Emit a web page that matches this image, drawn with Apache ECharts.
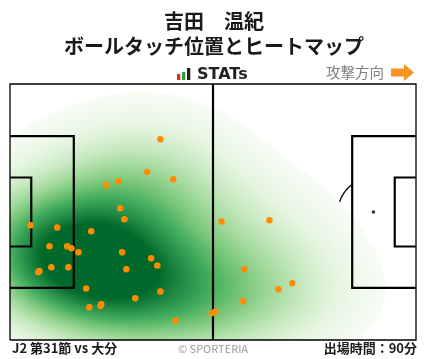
<!DOCTYPE html>
<html><head><meta charset="utf-8">
<script src="https://cdn.jsdelivr.net/npm/echarts@6/dist/echarts.min.js"></script>
<style>html,body{margin:0;padding:0;background:#fff;}#c{width:428px;height:359px;}</style>
</head><body><div id="c"></div>
<script>
// ---- data (pitch metres, x: 0 = own goal line, y: 0 = bottom touchline) ----
const touchX = [38.9, 35.5, 28.0, 24.9, 42.2, 28.5, 29.6, 5.3, 12.2, 21.0,
                10.2, 14.8, 15.9, 17.7, 29.0, 36.5, 38.1, 30.1, 7.3, 7.6,
                10.7, 15.1, 19.7, 38.9, 32.4, 20.5, 23.4, 23.6, 42.8, 52.2,
                53.1, 54.7, 67.1, 60.6, 73.0, 69.4, 60.3];
const touchY = [53.3, 44.6, 42.2, 41.1, 42.7, 35.0, 32.1, 30.5, 29.9, 28.9,
                24.9, 24.9, 24.4, 23.3, 23.3, 21.7, 19.8, 18.8, 18.0, 18.3,
                19.3, 19.3, 13.7, 12.9, 11.1, 8.7, 9.0, 9.5, 5.2, 7.1,
                7.6, 31.5, 31.8, 18.8, 15.1, 13.5, 10.3];
const titleName = '吉田　温紀';
const titleSub = 'ボールタッチ位置とヒートマップ';
const logoText = 'STATs';
const directionText = '攻撃方向';
const matchLabel = 'J2 第31節 vs 大分';
const copyrightLabel = '© SPORTERIA';
const minutesLabel = '出場時間：90分';

// ---- pitch dimensions (metres) ----
const PL = 105, PW = 68;

// ---- Gaussian KDE (Scott's rule, full covariance) from the touch points ----
const BW_ADJ = 1.6, THRESH = 0.04, TOP = 0.8;
const n = touchX.length;
const mx = touchX.reduce((a, b) => a + b, 0) / n;
const my = touchY.reduce((a, b) => a + b, 0) / n;
let sxx = 0, syy = 0, sxy = 0;
for (let i = 0; i < n; i++) {
  const dx = touchX[i] - mx, dy = touchY[i] - my;
  sxx += dx * dx; syy += dy * dy; sxy += dx * dy;
}
sxx /= (n - 1); syy /= (n - 1); sxy /= (n - 1);
const f2 = Math.pow(n, -1 / 3) * BW_ADJ * BW_ADJ;
const ca = sxx * f2, cb = sxy * f2, cd = syy * f2;
const det = ca * cd - cb * cb;
const ia = cd / det, ib = -cb / det, id = ca / det;
const knorm = 1 / (n * 2 * Math.PI * Math.sqrt(det));
function dens(x, y) {
  let s = 0;
  for (let i = 0; i < n; i++) {
    const dx = x - touchX[i], dy = y - touchY[i];
    s += Math.exp(-0.5 * (ia * dx * dx + 2 * ib * dx * dy + id * dy * dy));
  }
  return s * knorm;
}
const bwx = Math.sqrt(ca), bwy = Math.sqrt(cd);
const gx0 = Math.min(...touchX) - 3 * bwx, gx1 = Math.max(...touchX) + 3 * bwx;
const gy0 = Math.min(...touchY) - 3 * bwy, gy1 = Math.max(...touchY) + 3 * bwy;
const ext = [];
const G = 150;
for (let i = 0; i < G; i++) for (let j = 0; j < G; j++) {
  ext.push(dens(gx0 + (gx1 - gx0) * i / (G - 1), gy0 + (gy1 - gy0) * j / (G - 1)));
}
ext.sort((a, b) => b - a);
const tot = ext.reduce((a, b) => a + b, 0);
let acc = 0, thr = ext[ext.length - 1];
for (let k = 0; k < ext.length; k++) { acc += ext[k]; if (acc / tot >= 1 - THRESH) { thr = ext[k]; break; } }

const NX = 203, NY = 128;
const cellsX = Array.from({length: NX}, (_, i) => i);
const cellsY = Array.from({length: NY}, (_, j) => j);
const heat = [];
let dmax = 0;
for (let i = 0; i < NX; i++) for (let j = 0; j < NY; j++) {
  const v = dens((i + 0.5) * PL / NX, (j + 0.5) * PW / NY);
  if (v > dmax) dmax = v;
  if (v >= thr) heat.push([i, j, v]);
}

// ---- pitch markings ----
const PA_D = 16.5, PA_W = 40.32, GA_D = 5.5, GA_W = 18.32, SPOT = 11, R = 9.15;
const cy = PW / 2;
const straight = [
  [[0, 0], [PL, 0], [PL, PW], [0, PW], [0, 0]],
];
const thick = [
  [[PL / 2, 0], [PL / 2, PW]],
  [[0, cy - PA_W / 2], [PA_D, cy - PA_W / 2], [PA_D, cy + PA_W / 2], [0, cy + PA_W / 2]],
  [[0, cy - GA_W / 2], [GA_D, cy - GA_W / 2], [GA_D, cy + GA_W / 2], [0, cy + GA_W / 2]],
  [[PL, cy - PA_W / 2], [PL - PA_D, cy - PA_W / 2], [PL - PA_D, cy + PA_W / 2], [PL, cy + PA_W / 2]],
  [[PL, cy - GA_W / 2], [PL - GA_D, cy - GA_W / 2], [PL - GA_D, cy + GA_W / 2], [PL, cy + GA_W / 2]],
];
function arcPts(cx0, cy0, a0, a1) {
  const pts = [];
  for (let k = 0; k <= 60; k++) {
    const t = a0 + (a1 - a0) * k / 60;
    pts.push([cx0 + R * Math.cos(t), cy0 + R * Math.sin(t)]);
  }
  return pts;
}
const ang = Math.acos((PA_D - SPOT) / R);
const arcs = [
  arcPts(PL / 2, cy, 0, Math.PI * 2),
  arcPts(SPOT, cy, -ang, ang),
  arcPts(PL - SPOT, cy, Math.PI - ang, Math.PI + ang),
];
const spots = [[SPOT, cy], [PL - SPOT, cy]];

const chart = echarts.init(document.getElementById('c'), null, {renderer: 'canvas'});
function polySeries(list, lw, z) {
  return {
    type: 'custom', xAxisIndex: 1, yAxisIndex: 1, z: z, silent: true,
    data: list.map((pl, k) => [pl[0][0], pl[0][1], k]),
    renderItem: function (params, api) {
      const pl = list[params.dataIndex];
      const pts = pl.map(p => api.coord(p));
      return {type: 'polyline', shape: {points: pts}, style: {stroke: '#000', lineWidth: lw, fill: null}};
    }
  };
}
const gridPos = {left: 10, top: 84, width: 406, height: 256};
const FONT = '"Noto Sans CJK JP", "Noto Sans", sans-serif';
chart.setOption({
  animation: false,
  grid: [Object.assign({}, gridPos), Object.assign({}, gridPos)],
  xAxis: [
    {type: 'category', data: cellsX, gridIndex: 0, show: false},
    {type: 'value', min: 0, max: PL, gridIndex: 1, show: false},
  ],
  yAxis: [
    {type: 'category', data: cellsY, gridIndex: 0, show: false},
    {type: 'value', min: 0, max: PW, gridIndex: 1, show: false},
  ],
  visualMap: {
    show: false, seriesIndex: 0, dimension: 2, min: thr, max: thr + (dmax - thr) * TOP,
    inRange: {color: ['#f7fcf5', '#e5f5e0', '#c7e9c0', '#a1d99b', '#74c476', '#41ab5d', '#238b45', '#006a2c']},
    outOfRange: {color: '#006a2c'}
  },
  series: [
    {type: 'heatmap', xAxisIndex: 0, yAxisIndex: 0, data: heat, progressive: 0, z: 3,
     itemStyle: {borderWidth: 0}, emphasis: {disabled: true}},
    polySeries(arcs, 1.3, 1),
    {type: 'scatter', xAxisIndex: 1, yAxisIndex: 1, data: spots, z: 1, symbolSize: 3.5,
     itemStyle: {color: '#000'}, silent: true},
    polySeries(straight, 1.3, 5),
    polySeries(thick, 2.2, 5),
    {type: 'scatter', xAxisIndex: 1, yAxisIndex: 1, z: 6, symbolSize: 6.5,
     data: touchX.map((x, i) => [x, touchY[i]]), itemStyle: {color: '#ff8c00', opacity: 1}},
  ],
  graphic: [
    {type: 'text', z: 10, style: {text: titleName, x: 214, y: 21, align: 'center', verticalAlign: 'middle', font: 'bold 20px ' + FONT, fill: '#1a1a1a'}},
    {type: 'text', z: 10, style: {text: titleSub, x: 214, y: 46.5, align: 'center', verticalAlign: 'middle', font: 'bold 20px ' + FONT, fill: '#1a1a1a'}},
    {type: 'rect', z: 10, shape: {x: 177, y: 74, width: 3.3, height: 6}, style: {fill: '#e0301e'}},
    {type: 'rect', z: 10, shape: {x: 182, y: 72, width: 3.3, height: 8}, style: {fill: '#2e9e3e'}},
    {type: 'rect', z: 10, shape: {x: 187, y: 68, width: 3.3, height: 12}, style: {fill: '#222'}},
    {type: 'text', z: 10, style: {text: logoText, x: 197, y: 74.5, align: 'left', verticalAlign: 'middle', font: 'bold 16px "DejaVu Sans", sans-serif', fill: '#222'}},
    {type: 'text', z: 10, style: {text: directionText, x: 384, y: 72.5, align: 'right', verticalAlign: 'middle', font: '14.5px ' + FONT, fill: '#7f7f7f'}},
    {type: 'polygon', z: 10, shape: {points: [[391, 68.5], [404, 68.5], [404, 64], [414, 72.5], [404, 81], [404, 76.5], [391, 76.5]]}, style: {fill: '#f7931e'}},
    {type: 'text', z: 10, style: {text: matchLabel, x: 12, y: 348.5, align: 'left', verticalAlign: 'middle', font: 'bold 13px ' + FONT, fill: '#1a1a1a'}},
    {type: 'text', z: 10, style: {text: copyrightLabel, x: 213, y: 348.5, align: 'center', verticalAlign: 'middle', font: '11px ' + FONT, fill: '#9a9a9a'}},
    {type: 'text', z: 10, style: {text: minutesLabel, x: 417, y: 348.5, align: 'right', verticalAlign: 'middle', font: 'bold 13px ' + FONT, fill: '#1a1a1a'}},
  ]
});
</script></body></html>
